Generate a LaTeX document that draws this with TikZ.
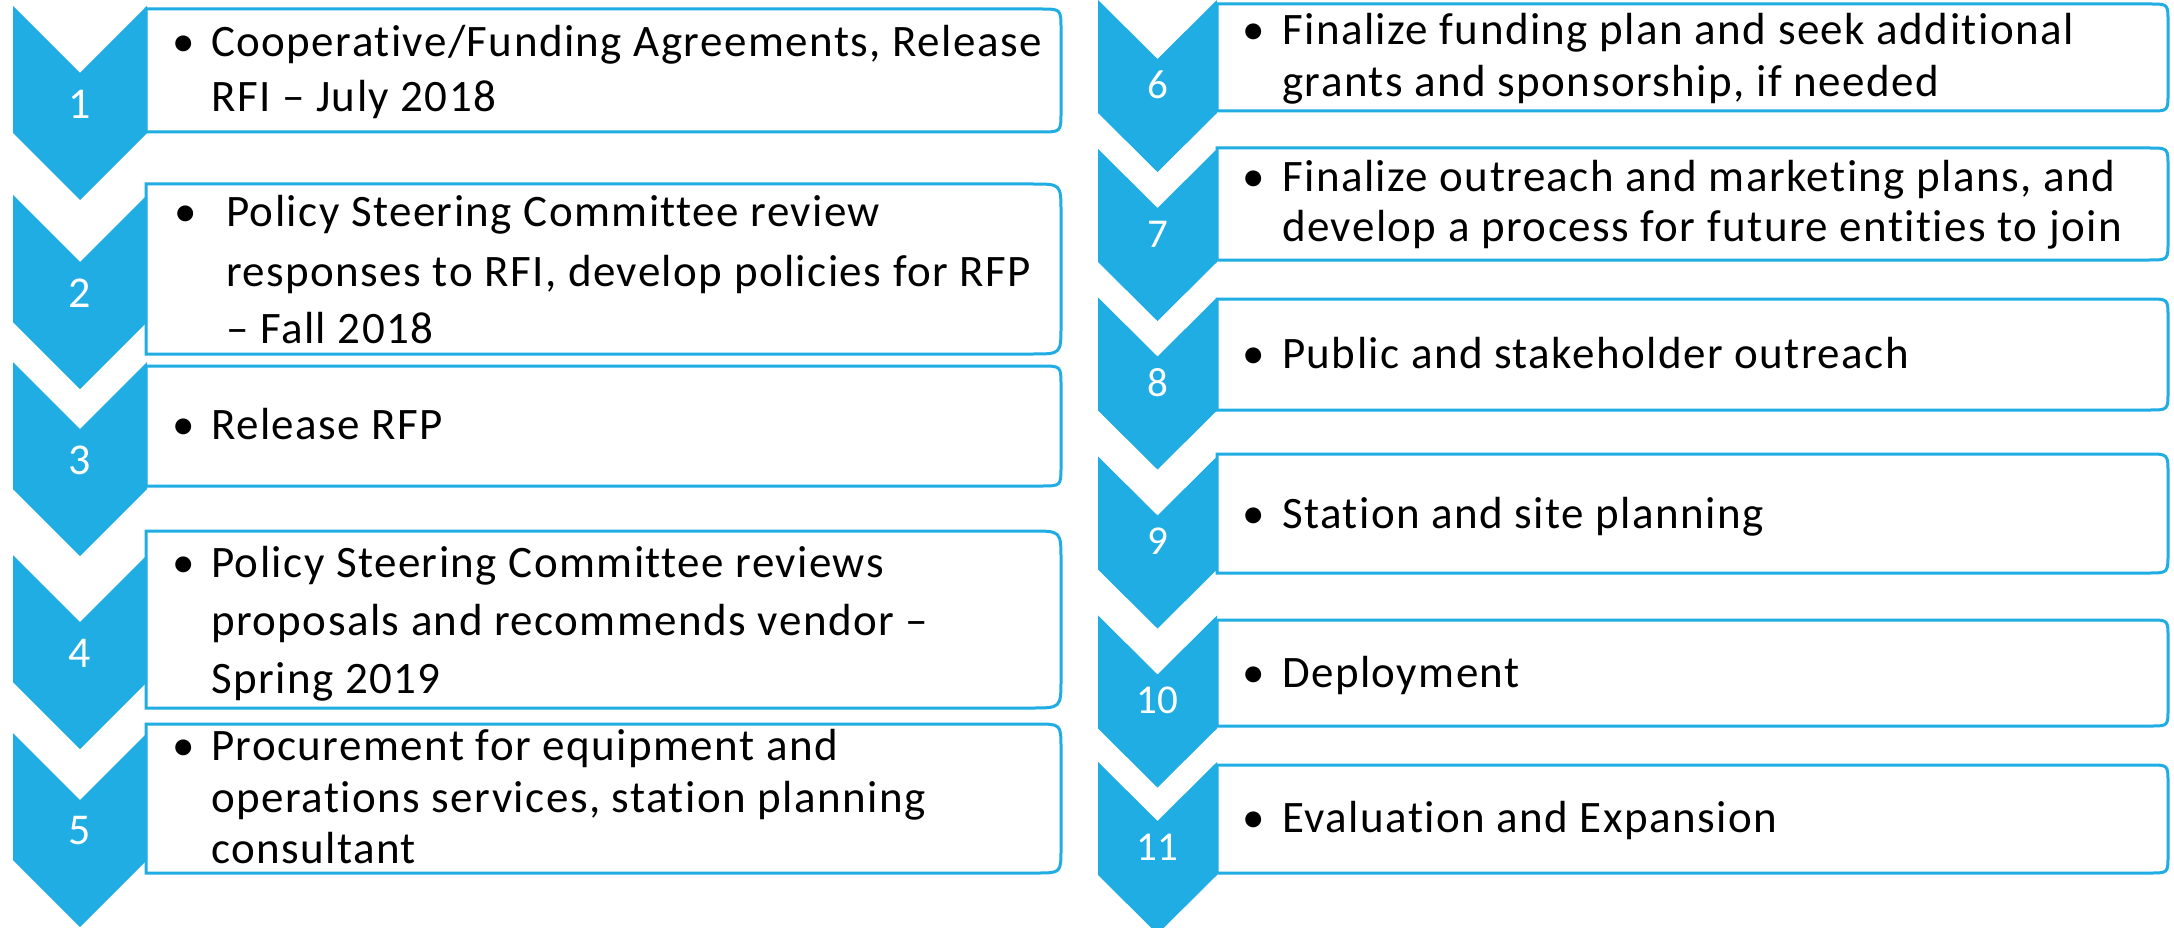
\documentclass[tikz,border=0pt]{standalone}
\usepackage{fontspec}
\setmainfont{Carlito}
\newfontfamily\txtfam{Carlito}[LetterSpace=3.2,Ligatures=NoCommon]
\definecolor{cblue}{RGB}{31,173,227}
\newcommand\txtfont{\txtfam\fontsize{45}{52}\selectfont}
\newcommand\numfontL{\fontsize{44}{52}\selectfont}
\newcommand\numfontR{\fontsize{41}{50}\selectfont}
\tikzset{
  chev/.style={fill=cblue, draw=none},
  tbox/.style={draw=cblue, line width=3pt, fill=white},
  txt/.style={anchor=base west, inner sep=0pt, font=\txtfont, text=black},
  bul/.style={anchor=base, inner sep=0pt, font=\txtfont, text=black},
  numL/.style={anchor=center, inner sep=0pt, font=\numfontL, text=white},
  numR/.style={anchor=center, inner sep=0pt, font=\numfontR, text=white}
}
\begin{document}
\begin{tikzpicture}[x=1pt,y=-1pt]
\useasboundingbox (0,0) rectangle (2174,928);
\clip (0,0) rectangle (2174,928);
\fill[white] (0,0) rectangle (2174,928);
% left boxes
\foreach \t/\b in {9/132,184/354,366/486,531/708,724/873}{
  \pgfmathsetmacro\r{(\b-\t)/6}
  \draw[tbox] (146,\b) -- (146,\t) -- (1061-\r,\t) .. controls (1061,\t) .. (1061,\t+\r)
     -- (1061,\b-\r) .. controls (1061,\b) .. (1061-\r,\b) -- cycle;
}
% right boxes
\foreach \t/\b in {4/111,148/260,299/410,454/573,620/726,765/873}{
  \pgfmathsetmacro\r{(\b-\t)/6}
  \draw[tbox] (1217,\b) -- (1217,\t) -- (2168-\r,\t) .. controls (2168,\t) .. (2168,\t+\r)
     -- (2168,\b-\r) .. controls (2168,\b) .. (2168-\r,\b) -- cycle;
}
% left chevrons
\foreach \y in {6,195,362,555,733}{
  \fill[chev] (13,\y) -- (80,\y+67) -- (147,\y) -- (147,\y+127) -- (80,\y+194) -- (13,\y+127) -- cycle;
}
% right chevrons
\foreach \y in {0,149,297.5,456.5,615.5,762}{
  \fill[chev] (1098,\y) -- (1157.5,\y+59) -- (1217,\y) -- (1217,\y+113) -- (1157.5,\y+172) -- (1098,\y+113) -- cycle;
}
% numbers
\node[numL] (n1) at (80,104) {1};
\node[numL] (n2) at (80,293) {2};
\node[numL] (n3) at (80,460) {3};
\node[numL] (n4) at (80,653) {4};
\node[numL] (n5) at (80,831) {5};
\node[numR] (n6) at (1157.5,85) {6};
\node[numR] (n7) at (1157.5,234) {7};
\node[numR] (n8) at (1157.5,382.5) {8};
\node[numR] (n9) at (1157.5,541.5) {9};
\node[numR] (n10) at (1157.5,700.5) {10};
\node[numR] (n11) at (1157.5,847) {11};
% box 1
\node[bul] (b1) at (184,57) {•};
\node[txt] (t1a) at (211,57) {Cooperative/Funding Agreements, Release};
\node[txt] (t1b) at (211,112) {RFI – July 2018};
% box 2
\node[bul] (b2) at (186,227) {•};
\node[txt] (t2a) at (226,227) {Policy Steering Committee review};
\node[txt] (t2b) at (226,286) {responses to RFI, develop policies for RFP};
\node[txt] (t2c) at (226,343) {– Fall 2018};
% box 3
\node[bul] (b3) at (184,439) {•};
\node[txt] (t3a) at (211,439) {Release RFP};
% box 4
\node[bul] (b4) at (184,577) {•};
\node[txt] (t4a) at (211,577) {Policy Steering Committee reviews};
\node[txt] (t4b) at (211,635) {proposals and recommends vendor –};
\node[txt] (t4c) at (211,693) {Spring 2019};
% box 5
\node[bul] (b5) at (184,760) {•};
\node[txt] (t5a) at (211,760) {Procurement for equipment and};
\node[txt] (t5b) at (211,812) {operations services, station planning};
\node[txt] (t5c) at (211,863) {consultant};
% box 6
\node[bul] (b6) at (1254,45) {•};
\node[txt] (t6a) at (1282,45) {Finalize funding plan and seek additional};
\node[txt] (t6b) at (1282,97) {grants and sponsorship, if needed};
% box 7
\node[bul] (b7) at (1254,192) {•};
\node[txt] (t7a) at (1282,192) {Finalize outreach and marketing plans, and};
\node[txt] (t7b) at (1282,242) {develop a process for future entities to join};
% box 8
\node[bul] (b8) at (1254,368) {•};
\node[txt] (t8a) at (1282,368) {Public and stakeholder outreach};
% box 9
\node[bul] (b9) at (1254,528) {•};
\node[txt] (t9a) at (1282,528) {Station and site planning};
% box 10
\node[bul] (b10) at (1254,687) {•};
\node[txt] (t10a) at (1282,687) {Deployment};
% box 11
\node[bul] (b11) at (1254,832) {•};
\node[txt] (t11a) at (1282,832) {Evaluation and Expansion};
\end{tikzpicture}
\end{document}
